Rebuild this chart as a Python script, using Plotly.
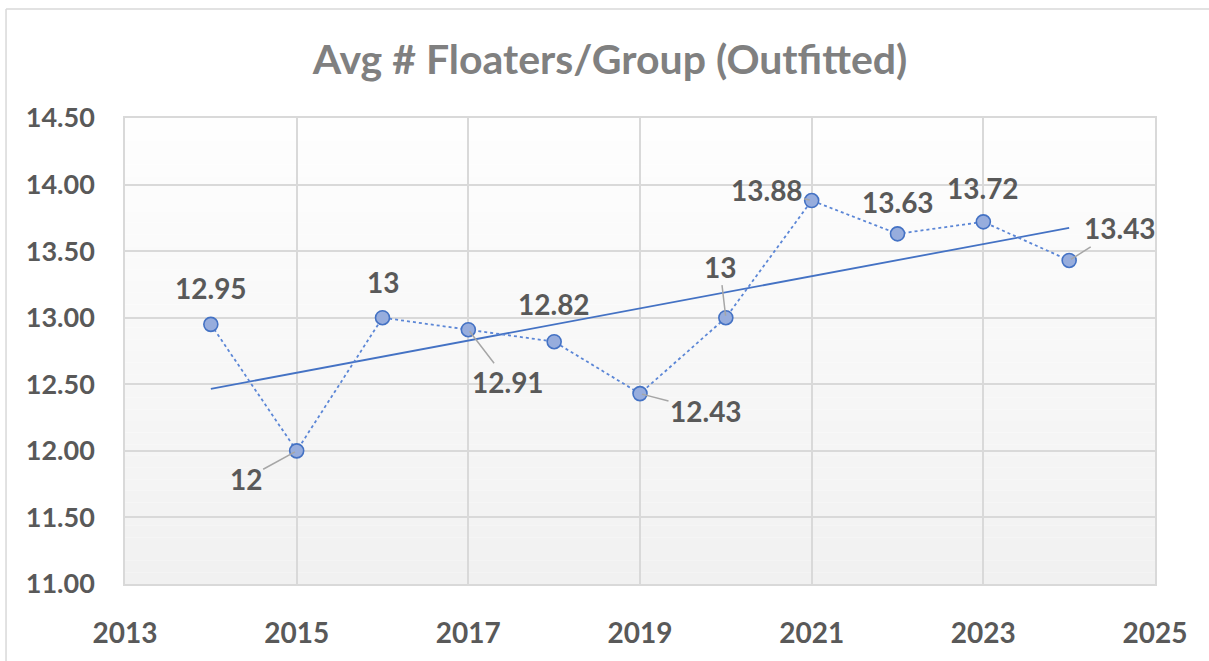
import numpy as np
import plotly.graph_objects as go

# ---- data ----
years = [2014, 2015, 2016, 2017, 2018, 2019, 2020, 2021, 2022, 2023, 2024]
values = [12.95, 12.00, 13.00, 12.91, 12.82, 12.43, 13.00, 13.88, 13.63, 13.72, 13.43]
point_labels = ["12.95", "12", "13", "12.91", "12.82", "12.43", "13", "13.88", "13.63", "13.72", "13.43"]
title_text = "Avg # Floaters/Group (Outfitted)"
x_ticks = [2013, 2015, 2017, 2019, 2021, 2023, 2025]
y_ticks = [11.0, 11.5, 12.0, 12.5, 13.0, 13.5, 14.0, 14.5]

# ---- label placement (pixel offsets from the point; leader = draw connector) ----
label_offsets = {
    2014: (0, -36, False),
    2015: (-51, 28, True),
    2016: (0, -36, False),
    2017: (40, 52, True),
    2018: (0, -38, False),
    2019: (66, 17, True),
    2020: (-6, -51, True),
    2021: (-45, -11, True),
    2022: (0, -32, False),
    2023: (0, -34, False),
    2024: (51, -32, True),
}

FONT = "Lato"
TXT = "#595959"
BLUE = "#4472C4"

slope, intercept = np.polyfit(years, values, 1)
trend_x = [years[0], years[-1]]
trend_y = [slope * x + intercept for x in trend_x]

fig = go.Figure()
fig.add_trace(go.Scatter(x=trend_x, y=trend_y, mode="lines",
                         line=dict(color=BLUE, width=1.8), hoverinfo="skip", showlegend=False))
fig.add_trace(go.Scatter(x=years, y=values, mode="lines+markers",
                         line=dict(color="#5B86D6", width=1.8, dash="dot"),
                         marker=dict(size=14, color="#97ADDD", line=dict(color=BLUE, width=1.6)),
                         showlegend=False))

lab_font = dict(family=FONT, size=28, color=TXT, weight="bold")
annotations = []
for yr, v, lab in zip(years, values, point_labels):
    ax, ay, leader = label_offsets[yr]
    if leader:
        annotations.append(dict(x=yr, y=v, text=lab, showarrow=True, ax=ax, ay=ay,
                                arrowhead=0, arrowwidth=1.5, arrowcolor="#A6A6A6",
                                standoff=2, font=lab_font))
    else:
        annotations.append(dict(x=yr, y=v, text=lab, showarrow=False, xshift=ax, yshift=-ay,
                                font=lab_font))

# plot-area gradient (white at top to light grey at bottom)
shapes = []
n = 40
for i in range(n):
    t = i / (n - 1)
    c = int(round(241 + (254 - 241) * t))
    shapes.append(dict(type="rect", xref="paper", yref="paper", x0=0, x1=1,
                       y0=i / n, y1=(i + 1) / n, fillcolor=f"rgb({c},{c},{c})",
                       line=dict(width=0), layer="below"))
# outer chart border
shapes.append(dict(type="line", xref="paper", yref="paper", x0=-0.1155, x1=-0.1155,
                   y0=1.234, y1=-0.3, line=dict(color="#D9D9D9", width=1.5)))
shapes.append(dict(type="line", xref="paper", yref="paper", x0=-0.1155, x1=1.2,
                   y0=1.234, y1=1.234, line=dict(color="#D9D9D9", width=1.5)))

fig.update_layout(
    width=1209, height=661,
    margin=dict(l=125, r=54, t=118, b=73),
    paper_bgcolor="white", plot_bgcolor="rgba(0,0,0,0)",
    title=dict(text=title_text, x=610 / 1209, xref="container", xanchor="center",
               y=1 - 60 / 661, yref="container", yanchor="middle",
               font=dict(family=FONT, size=41, color="#808080", weight="bold")),
    annotations=annotations,
    shapes=shapes,
    font=dict(family=FONT, color=TXT),
)
fig.update_xaxes(range=[2013, 2025], tickvals=x_ticks, ticktext=[str(t) for t in x_ticks],
                 showgrid=True, gridcolor="#D9D9D9", gridwidth=1.5,
                 showline=True, linecolor="#D9D9D9", linewidth=1.5, mirror=True,
                 zeroline=False, ticks="", ticklabelstandoff=24,
                 tickfont=dict(family=FONT, size=28, color=TXT, weight="bold"))
fig.update_yaxes(range=[11, 14.5], tickvals=y_ticks, ticktext=[f"{t:.2f}" for t in y_ticks],
                 showgrid=True, gridcolor="#D9D9D9", gridwidth=1.5,
                 showline=True, linecolor="#D9D9D9", linewidth=1.5, mirror=True,
                 zeroline=False, ticks="", ticklabelstandoff=23,
                 tickfont=dict(family=FONT, size=27, color=TXT, weight="bold"))

fig.write_html("out.html", config={"displayModeBar": False},
               post_script="document.body.style.margin='0';document.body.style.overflow='hidden';")
